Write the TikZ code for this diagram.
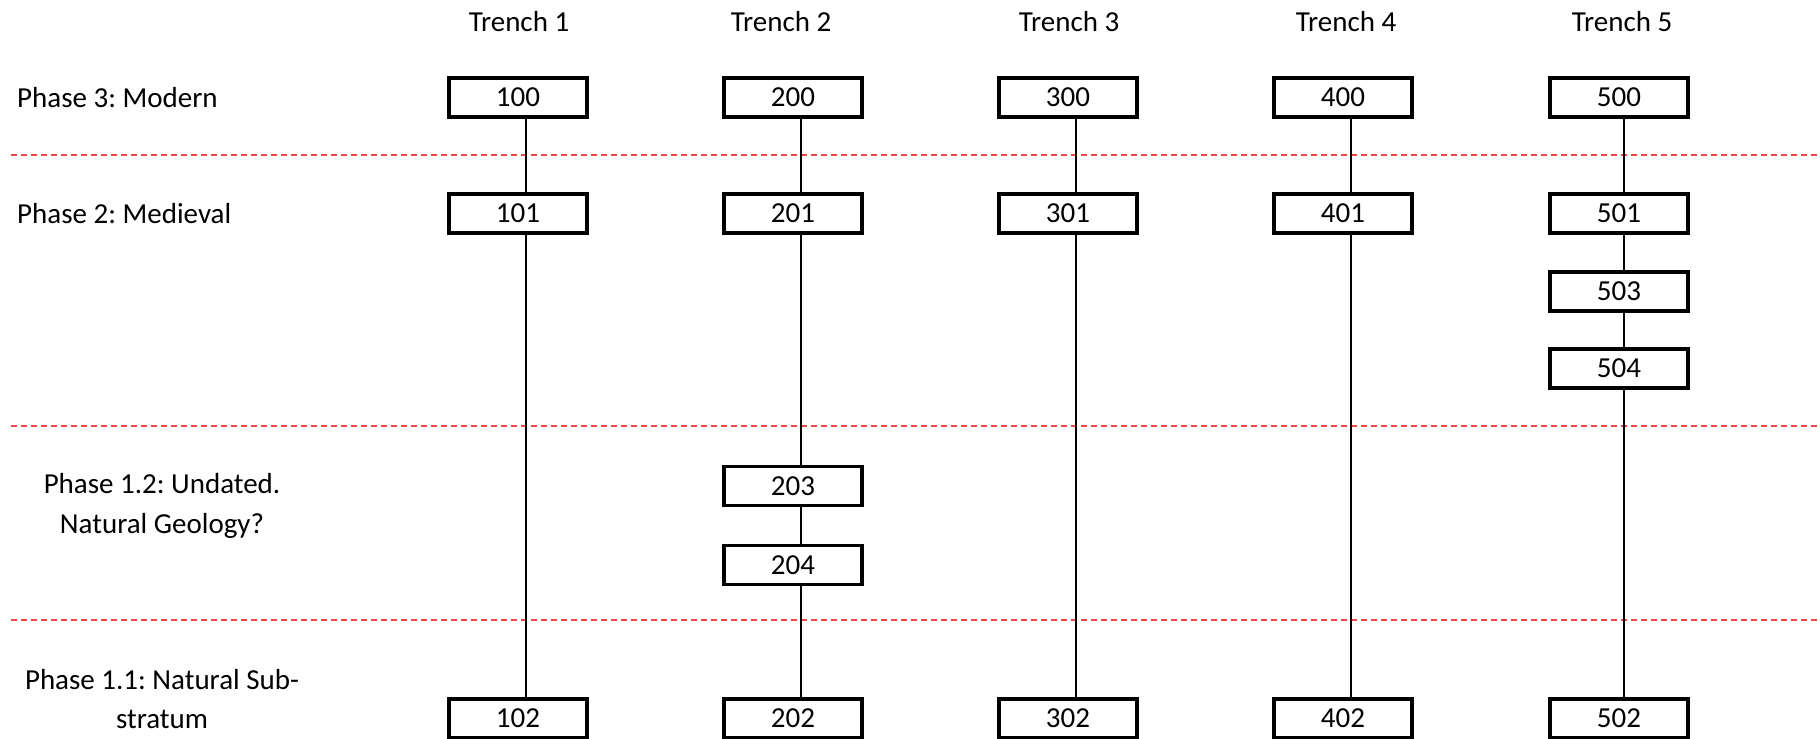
\documentclass[tikz,border=0pt]{standalone}
\usepackage{fontspec}
\setmainfont{Carlito}
\frenchspacing
\definecolor{divider}{RGB}{240, 70, 70}
\usepackage{tikz}

\begin{document}
\begin{tikzpicture}[
      x=0.02cm, y=-0.02cm,
      every node/.style={font=\fontsize{16.5}{22.4}\selectfont},
      box/.style={draw, line width=1.9pt, fill=white, minimum width=2.76cm, minimum height=0.78cm, inner sep=0pt},
      link/.style={line width=0.6pt},
      divide/.style={divider, line width=0.6pt, dash pattern=on 0.12cm off 0.08cm}
    ]
      \useasboundingbox (0,0) rectangle (1820,739);

      % Phase dividers
      \draw[divide] (11,155) -- (1820,155);
      \draw[divide] (11,426) -- (1820,426);
      \draw[divide] (11,620) -- (1820,620);

      % Trench headings
      \node (t1) at (519,22) {Trench 1};
      \node (t2) at (781,22) {Trench 2};
      \node (t3) at (1069,22) {Trench 3};
      \node (t4) at (1346,22) {Trench 4};
      \node (t5) at (1622,22) {Trench 5};

      % Phase labels
      \node[anchor=west] (p3) at (11,98) {Phase 3: Modern};
      \node[anchor=west] (p2) at (11,214) {Phase 2: Medieval};
      \node[align=center] (p12) at (162,506) {Phase 1.2: Undated.\\Natural Geology?};
      \node[align=center] (p11) at (162,699) {Phase 1.1: Natural Sub-\\stratum};

      % Trench 1
      \node[box] (c100) at (518,97.5) {100};
      \node[box] (c101) at (518,213.5) {101};
      \node[box] (c102) at (518,718.5) {102};

      % Trench 2
      \node[box] (c200) at (793,97.5) {200};
      \node[box] (c201) at (793,213.5) {201};
      \node[box] (c203) at (793,486) {203};
      \node[box] (c204) at (793,565) {204};
      \node[box] (c202) at (793,718.5) {202};

      % Trench 3
      \node[box] (c300) at (1068,97.5) {300};
      \node[box] (c301) at (1068,213.5) {301};
      \node[box] (c302) at (1068,718.5) {302};

      % Trench 4
      \node[box] (c400) at (1343,97.5) {400};
      \node[box] (c401) at (1343,213.5) {401};
      \node[box] (c402) at (1343,718.5) {402};

      % Trench 5
      \node[box] (c500) at (1619,97.5) {500};
      \node[box] (c501) at (1619,213.5) {501};
      \node[box] (c503) at (1619,291.5) {503};
      \node[box] (c504) at (1619,368.5) {504};
      \node[box] (c502) at (1619,718.5) {502};

      % Sequence links (drawn a little right of centre)
      \draw[link, transform canvas={xshift=0.16cm}] (c100) -- (c101) -- (c102);
      \draw[link, transform canvas={xshift=0.16cm}] (c200) -- (c201) -- (c203) -- (c204) -- (c202);
      \draw[link, transform canvas={xshift=0.16cm}] (c300) -- (c301) -- (c302);
      \draw[link, transform canvas={xshift=0.16cm}] (c400) -- (c401) -- (c402);
      \draw[link, transform canvas={xshift=0.1cm}] (c500) -- (c501) -- (c503) -- (c504) -- (c502);
    \end{tikzpicture}
\end{document}
